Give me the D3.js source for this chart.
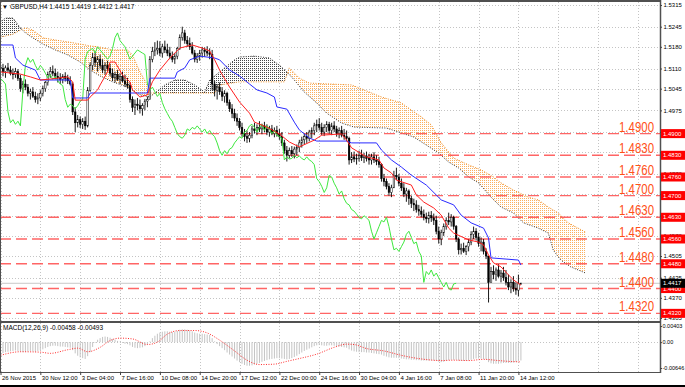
<!DOCTYPE html>
<html lang="en">
<head>
<meta charset="UTF-8">
<title>GBPUSD H4 Ichimoku + MACD</title>
<script src="https://d3js.org/d3.v7.min.js"></script>
<style>
  body { margin: 0; background: #fff; }
  svg { display: block; font-family: "Liberation Sans", Arial, sans-serif; }
  .axis text { font-size: 6px; fill: #000; }
  .axis line { stroke: #444; }
  .axis path { display: none; }
</style>
</head>
<body>
<svg width="685" height="387"></svg>
<script>
// ---- data (H4 bars, index 0 = 26 Nov 2015) ----
const opens = [1.5115,1.5110,1.5100,1.5112,1.5105,1.5095,1.5090,1.5100,1.5078,1.5045,
  1.5060,1.5050,1.5030,1.5035,1.5020,1.5010,1.5015,1.5030,1.5045,1.5065,
  1.5090,1.5100,1.5095,1.5085,1.5080,1.5075,1.5085,1.5078,1.5070,1.5060,
  1.4970,1.4935,1.4945,1.4930,1.4940,1.4925,1.5040,1.5120,1.5145,1.5130,
  1.5140,1.5120,1.5105,1.5120,1.5110,1.5095,1.5080,1.5090,1.5075,1.5085,
  1.5070,1.5060,1.5055,1.5010,1.4985,1.4995,1.4990,1.4980,1.4990,1.5005,
  1.5010,1.5140,1.5165,1.5170,1.5175,1.5160,1.5180,1.5170,1.5160,1.5150,
  1.5140,1.5150,1.5175,1.5210,1.5225,1.5200,1.5190,1.5180,1.5160,1.5140,
  1.5150,1.5160,1.5170,1.5165,1.5160,1.5155,1.5060,1.5040,1.5050,1.5035,
  1.5020,1.5030,1.5000,1.4980,1.4965,1.4950,1.4940,1.4920,1.4900,1.4890,
  1.4885,1.4895,1.4915,1.4910,1.4920,1.4915,1.4925,1.4915,1.4905,1.4915,
  1.4900,1.4910,1.4898,1.4890,1.4870,1.4845,1.4830,1.4845,1.4835,1.4850,
  1.4855,1.4870,1.4880,1.4890,1.4885,1.4905,1.4910,1.4925,1.4930,1.4920,
  1.4905,1.4920,1.4930,1.4910,1.4925,1.4915,1.4900,1.4910,1.4895,1.4890,
  1.4885,1.4815,1.4825,1.4818,1.4820,1.4830,1.4822,1.4828,1.4820,1.4815,
  1.4825,1.4815,1.4810,1.4800,1.4755,1.4745,1.4730,1.4710,1.4725,1.4765,
  1.4760,1.4740,1.4725,1.4705,1.4715,1.4690,1.4675,1.4670,1.4655,1.4650,
  1.4640,1.4630,1.4625,1.4635,1.4628,1.4620,1.4585,1.4560,1.4580,1.4600,
  1.4620,1.4615,1.4630,1.4600,1.4560,1.4525,1.4530,1.4520,1.4535,1.4550,
  1.4575,1.4585,1.4565,1.4545,1.4550,1.4520,1.4505,1.4420,1.4455,1.4445,
  1.4460,1.4440,1.4450,1.4435,1.4420,1.4405,1.4420,1.4400,1.4395,1.4415];
const highs = [1.5130,1.5125,1.5120,1.5128,1.5118,1.5110,1.5112,1.5108,1.5090,1.5070,
  1.5075,1.5060,1.5045,1.5050,1.5035,1.5030,1.5040,1.5055,1.5070,1.5100,
  1.5115,1.5120,1.5110,1.5100,1.5095,1.5092,1.5098,1.5090,1.5085,1.5065,
  1.4985,1.4960,1.4955,1.4950,1.4955,1.5050,1.5130,1.5160,1.5165,1.5150,
  1.5155,1.5140,1.5130,1.5135,1.5125,1.5110,1.5100,1.5105,1.5095,1.5100,
  1.5090,1.5080,1.5065,1.5020,1.5010,1.5015,1.5010,1.4998,1.5012,1.5020,
  1.5150,1.5180,1.5195,1.5200,1.5198,1.5190,1.5200,1.5190,1.5180,1.5165,
  1.5160,1.5180,1.5220,1.5245,1.5235,1.5215,1.5210,1.5195,1.5170,1.5160,
  1.5170,1.5180,1.5178,1.5182,1.5175,1.5170,1.5070,1.5060,1.5065,1.5050,
  1.5040,1.5035,1.5010,1.4995,1.4980,1.4965,1.4950,1.4935,1.4915,1.4910,
  1.4905,1.4925,1.4935,1.4930,1.4940,1.4932,1.4938,1.4930,1.4925,1.4928,
  1.4920,1.4925,1.4915,1.4905,1.4880,1.4860,1.4855,1.4860,1.4858,1.4865,
  1.4880,1.4890,1.4900,1.4905,1.4912,1.4920,1.4935,1.4945,1.4950,1.4935,
  1.4930,1.4940,1.4938,1.4935,1.4940,1.4925,1.4920,1.4925,1.4915,1.4910,
  1.4890,1.4840,1.4842,1.4835,1.4845,1.4848,1.4838,1.4842,1.4835,1.4835,
  1.4840,1.4830,1.4825,1.4805,1.4770,1.4755,1.4740,1.4735,1.4780,1.4790,
  1.4770,1.4755,1.4740,1.4725,1.4720,1.4700,1.4690,1.4685,1.4670,1.4665,
  1.4655,1.4645,1.4648,1.4650,1.4642,1.4635,1.4600,1.4590,1.4610,1.4630,
  1.4645,1.4640,1.4635,1.4605,1.4565,1.4545,1.4548,1.4540,1.4560,1.4585,
  1.4600,1.4595,1.4580,1.4565,1.4560,1.4530,1.4505,1.4470,1.4475,1.4468,
  1.4478,1.4460,1.4470,1.4460,1.4445,1.4430,1.4440,1.4420,1.4445,1.4419];
const lows = [1.5095,1.5085,1.5080,1.5098,1.5088,1.5075,1.5080,1.5070,1.5035,1.5030,
  1.5040,1.5020,1.5010,1.5015,1.5000,1.4995,1.5005,1.5020,1.5035,1.5055,
  1.5080,1.5085,1.5075,1.5065,1.5060,1.5062,1.5068,1.5060,1.5055,1.4960,
  1.4905,1.4920,1.4918,1.4915,1.4912,1.4920,1.5035,1.5105,1.5115,1.5100,
  1.5110,1.5095,1.5090,1.5100,1.5085,1.5070,1.5065,1.5070,1.5060,1.5065,
  1.5050,1.5045,1.5000,1.4970,1.4960,1.4975,1.4965,1.4958,1.4975,1.4985,
  1.5010,1.5130,1.5150,1.5155,1.5150,1.5145,1.5160,1.5150,1.5140,1.5130,
  1.5125,1.5140,1.5170,1.5200,1.5190,1.5180,1.5170,1.5155,1.5130,1.5128,
  1.5135,1.5145,1.5148,1.5150,1.5140,1.5040,1.5020,1.5010,1.5025,1.5005,
  1.5000,1.4990,1.4970,1.4950,1.4940,1.4925,1.4910,1.4890,1.4875,1.4870,
  1.4872,1.4885,1.4900,1.4895,1.4905,1.4898,1.4905,1.4895,1.4890,1.4895,
  1.4888,1.4890,1.4880,1.4860,1.4835,1.4810,1.4820,1.4825,1.4820,1.4830,
  1.4840,1.4855,1.4865,1.4870,1.4875,1.4885,1.4895,1.4905,1.4910,1.4895,
  1.4892,1.4905,1.4900,1.4895,1.4905,1.4890,1.4885,1.4888,1.4880,1.4875,
  1.4800,1.4805,1.4808,1.4800,1.4810,1.4812,1.4805,1.4810,1.4800,1.4800,
  1.4805,1.4798,1.4790,1.4745,1.4730,1.4720,1.4700,1.4695,1.4725,1.4750,
  1.4730,1.4715,1.4695,1.4680,1.4670,1.4660,1.4650,1.4645,1.4635,1.4630,
  1.4620,1.4612,1.4610,1.4615,1.4605,1.4575,1.4545,1.4540,1.4570,1.4590,
  1.4605,1.4600,1.4590,1.4550,1.4510,1.4510,1.4515,1.4508,1.4520,1.4540,
  1.4560,1.4555,1.4535,1.4520,1.4510,1.4495,1.4355,1.4420,1.4430,1.4425,
  1.4435,1.4420,1.4425,1.4410,1.4395,1.4385,1.4390,1.4380,1.4375,1.4412];
const closes = [1.5110,1.5100,1.5112,1.5105,1.5095,1.5090,1.5100,1.5078,1.5045,1.5060,
  1.5050,1.5030,1.5035,1.5020,1.5010,1.5015,1.5030,1.5045,1.5065,1.5090,
  1.5100,1.5095,1.5085,1.5080,1.5075,1.5085,1.5078,1.5070,1.5060,1.4970,
  1.4935,1.4945,1.4930,1.4940,1.4925,1.5040,1.5120,1.5145,1.5130,1.5140,
  1.5120,1.5105,1.5120,1.5110,1.5095,1.5080,1.5090,1.5075,1.5085,1.5070,
  1.5060,1.5055,1.5010,1.4985,1.4995,1.4990,1.4980,1.4990,1.5005,1.5010,
  1.5140,1.5165,1.5170,1.5175,1.5160,1.5180,1.5170,1.5160,1.5150,1.5140,
  1.5150,1.5175,1.5210,1.5225,1.5200,1.5190,1.5180,1.5160,1.5140,1.5150,
  1.5160,1.5170,1.5165,1.5160,1.5155,1.5060,1.5040,1.5050,1.5035,1.5020,
  1.5030,1.5000,1.4980,1.4965,1.4950,1.4940,1.4920,1.4900,1.4890,1.4885,
  1.4895,1.4915,1.4910,1.4920,1.4915,1.4925,1.4915,1.4905,1.4915,1.4900,
  1.4910,1.4898,1.4890,1.4870,1.4845,1.4830,1.4845,1.4835,1.4850,1.4855,
  1.4870,1.4880,1.4890,1.4885,1.4905,1.4910,1.4925,1.4930,1.4920,1.4905,
  1.4920,1.4930,1.4910,1.4925,1.4915,1.4900,1.4910,1.4895,1.4890,1.4885,
  1.4815,1.4825,1.4818,1.4820,1.4830,1.4822,1.4828,1.4820,1.4815,1.4825,
  1.4815,1.4810,1.4800,1.4755,1.4745,1.4730,1.4710,1.4725,1.4765,1.4760,
  1.4740,1.4725,1.4705,1.4715,1.4690,1.4675,1.4670,1.4655,1.4650,1.4640,
  1.4630,1.4625,1.4635,1.4628,1.4620,1.4585,1.4560,1.4580,1.4600,1.4620,
  1.4615,1.4630,1.4600,1.4560,1.4525,1.4530,1.4520,1.4535,1.4550,1.4575,
  1.4585,1.4565,1.4545,1.4550,1.4520,1.4505,1.4420,1.4455,1.4445,1.4460,
  1.4440,1.4450,1.4435,1.4420,1.4405,1.4420,1.4400,1.4395,1.4415,1.4417];

// Ichimoku lines: [bar index, price]
const tenkan = [[0,1.5099],[8,1.5092],[12,1.5083],[16,1.5073],[20,1.5076],[27,1.5083],[29,1.5067],[30,1.5008],
  [35,1.5008],[36,1.5018],[39,1.5041],[40,1.5057],[43,1.5099],[44,1.5131],[46,1.5131],[49,1.5089],[52,1.5067],
  [53,1.5041],[56,1.5018],[59,1.5025],[61,1.5067],[64,1.5105],[68,1.5144],[72,1.5176],[77,1.5186],[81,1.5176],
  [84,1.5167],[86,1.5138],[88,1.5105],[92,1.5050],[96,1.5002],[100,1.4966],[102,1.4937],[107,1.4921],[112,1.4899],
  [116,1.4873],[120,1.4857],[126,1.4879],[129,1.4895],[137,1.4899],[139,1.4879],[141,1.4854],[147,1.4825],
  [152,1.4815],[154,1.4789],[157,1.4773],[159,1.4750],[165,1.4734],[167,1.4702],[170,1.4679],[174,1.4660],
  [177,1.4637],[180,1.4595],[182,1.4579],[188,1.4557],[192,1.4550],[194,1.4541],[196,1.4508],[198,1.4483],
  [201,1.4470],[204,1.4444],[206,1.4428],[209,1.4411]];
const kijun = [[0,1.5186],[5,1.5186],[6,1.5144],[9,1.5121],[14,1.5105],[16,1.5073],[28,1.5073],[29,1.5015],
  [35,1.5015],[36,1.5031],[59,1.5031],[60,1.5079],[70,1.5079],[71,1.5099],[74,1.5112],[76,1.5138],[80,1.5150],
  [86,1.5144],[88,1.5138],[92,1.5105],[96,1.5086],[100,1.5060],[103,1.5041],[107,1.5031],[110,1.5018],
  [111,1.4986],[115,1.4979],[118,1.4937],[120,1.4912],[124,1.4886],[127,1.4876],[139,1.4876],[141,1.4870],
  [151,1.4870],[153,1.4847],[157,1.4815],[161,1.4792],[165,1.4766],[171,1.4734],[177,1.4686],[182,1.4670],
  [185,1.4637],[189,1.4612],[194,1.4595],[196,1.4563],[197,1.4499],[208,1.4492],[209,1.4476]];
const spanA = [[0,1.5212],[2,1.5215],[5,1.5221],[8,1.5234],[10,1.5241],[13,1.5234],[17,1.5209],[22,1.5202],
  [27,1.5196],[32,1.5189],[36,1.5183],[40,1.5179],[45,1.5170],[51,1.5170],[53,1.5154],[56,1.5099],[59,1.5057],
  [60,1.5031],[86,1.5031],[88,1.5057],[96,1.5067],[114,1.5067],[116,1.5112],[120,1.5079],[124,1.5063],
  [141,1.5057],[146,1.5041],[153,1.5018],[161,1.4999],[165,1.4976],[169,1.4954],[173,1.4928],[177,1.4870],
  [182,1.4821],[188,1.4799],[193,1.4783],[198,1.4760],[201,1.4741],[206,1.4718],[212,1.4695],[216,1.4686],
  [220,1.4663],[224,1.4644],[228,1.4612],[235,1.4582]];
const spanB = [[0,1.5260],[2,1.5273],[5,1.5273],[8,1.5241],[10,1.5225],[13,1.5209],[17,1.5189],[22,1.5170],
  [27,1.5154],[32,1.5131],[36,1.5105],[40,1.5086],[45,1.5067],[51,1.5050],[56,1.5025],[60,1.5018],[66,1.5057],
  [70,1.5073],[74,1.5073],[78,1.5057],[82,1.5034],[84,1.5073],[88,1.5099],[94,1.5138],[96,1.5147],[102,1.5150],
  [108,1.5144],[112,1.5121],[115,1.5099],[118,1.5073],[122,1.5034],[127,1.4999],[131,1.4966],[137,1.4934],
  [142,1.4921],[155,1.4918],[161,1.4902],[166,1.4889],[171,1.4863],[176,1.4837],[180,1.4808],[184,1.4789],
  [188,1.4760],[192,1.4741],[197,1.4695],[201,1.4663],[206,1.4644],[210,1.4612],[216,1.4595],[220,1.4579],
  [222,1.4524],[225,1.4492],[229,1.4470],[235,1.4450]];

// MACD(12,26,9) main (histogram) per bar and signal line [bar index, value]
const macdMain = [-0.0026,-0.0027,-0.0025,-0.0024,-0.0023,-0.0022,-0.0021,-0.0022,-0.0024,
  -0.0025,-0.0024,-0.0023,-0.0022,-0.0023,-0.0024,-0.0022,-0.0020,
  -0.0018,-0.0015,-0.0012,-0.0010,-0.0009,-0.0009,
  -0.0010,-0.0011,-0.0011,-0.0012,-0.0013,-0.0014,
  -0.0020,-0.0028,-0.0034,-0.0038,-0.0040,-0.0042,-0.0035,-0.0025,
  -0.0012,-0.0002,0.0006,0.0010,0.0013,
  0.0014,0.0013,0.0011,0.0008,0.0006,
  0.0003,0.0001,-0.0002,-0.0004,-0.0005,-0.0008,
  -0.0012,-0.0014,-0.0015,-0.0014,-0.0013,-0.0010,-0.0006,
  0.0002,0.0010,0.0016,0.0021,0.0024,0.0026,0.0027,
  0.0027,0.0026,0.0025,0.0026,0.0028,0.0031,0.0032,
  0.0032,0.0031,0.0029,0.0027,0.0024,0.0022,0.0021,
  0.0021,0.0020,0.0019,0.0018,0.0010,
  0.0002,-0.0005,-0.0010,-0.0015,-0.0020,-0.0026,-0.0031,
  -0.0036,-0.0041,-0.0046,-0.0050,-0.0054,-0.0057,-0.0059,-0.0059,
  -0.0058,-0.0056,-0.0054,-0.0052,-0.0049,-0.0047,-0.0045,
  -0.0043,-0.0042,-0.0041,-0.0040,-0.0040,-0.0041,-0.0042,-0.0043,
  -0.0042,-0.0040,-0.0037,-0.0034,-0.0030,-0.0026,-0.0022,
  -0.0019,-0.0016,-0.0013,-0.0010,-0.0008,-0.0007,-0.0008,-0.0009,
  -0.0009,-0.0008,-0.0008,-0.0009,-0.0010,-0.0011,-0.0012,-0.0013,-0.0014,
  -0.0018,-0.0021,-0.0023,-0.0024,-0.0025,-0.0025,-0.0025,-0.0026,-0.0026,
  -0.0027,-0.0028,-0.0029,-0.0030,-0.0031,-0.0034,-0.0036,-0.0038,-0.0039,
  -0.0039,-0.0039,-0.0040,-0.0041,-0.0042,-0.0043,-0.0043,-0.0044,-0.0044,
  -0.0045,-0.0045,-0.0046,-0.0046,-0.0046,-0.0046,-0.0046,-0.0046,-0.0047,
  -0.0049,-0.0050,-0.0049,-0.0047,-0.0045,-0.0044,-0.0044,-0.0044,-0.0046,
  -0.0047,-0.0047,-0.0047,-0.0046,-0.0044,-0.0042,-0.0041,-0.0041,-0.0041,
  -0.0042,-0.0043,-0.0050,-0.0053,-0.0054,-0.0054,-0.0054,-0.0053,-0.0052,
  -0.0052,-0.0052,-0.0052,-0.0051,-0.0050,-0.0047,-0.00458];
const macdSignal = [[0,-0.0033],[8,-0.0024],[16,-0.0025],[20,-0.0028],[27,-0.0019],[31,-0.0015],[35,-0.0024],
  [40,-0.0013],[44,0.0004],[48,0.0010],[53,0.0008],[59,-0.0006],[63,0.0000],[67,0.0020],[72,0.0029],[78,0.0029],
  [83,0.0023],[88,0.0005],[94,-0.0022],[99,-0.0045],[104,-0.0056],[110,-0.0055],[115,-0.0048],[120,-0.0041],
  [127,-0.0030],[134,-0.0013],[139,-0.0005],[142,-0.0006],[147,-0.0016],[154,-0.0022],[161,-0.0033],
  [169,-0.0042],[177,-0.0046],[182,-0.0045],[188,-0.0046],[194,-0.0043],[200,-0.0046],[204,-0.0048],[209,-0.00493]];

const levels = [1.4900, 1.4830, 1.4760, 1.4700, 1.4630, 1.4560, 1.4480, 1.4400, 1.4320];
const priceTicks = [1.5315,1.5245,1.5180,1.5110,1.5045,1.4975,1.4905,1.4840,1.4770,1.4705,1.4635,1.4570,1.4505,1.4435,1.4370,1.4305];
const macdTicks = [0.00403, 0, -0.00646];
const macdTickLabels = ["0.00403", "0.00", "-0.00646"];
const dateIdx = [0,16,32,48,64,80,96,112,128,144,160,176,192,208];
const dateLabels = ["26 Nov 2015","30 Nov 12:00","3 Dec 04:00","7 Dec 16:00","10 Dec 08:00","14 Dec 20:00",
  "17 Dec 12:00","22 Dec 00:00","24 Dec 16:00","30 Dec 04:00","4 Jan 16:00","7 Jan 08:00","11 Jan 20:00","14 Jan 12:00"];
const gridIdx = [0,16,32,48,64,80,96,112,128,144,160,176,192,208,224,240,256];
const lastBid = 1.4417;

// ---- layout ----
const svg = d3.select("svg");
const right = 660;
const priceTop = 2, priceBottom = 321, macdTop = 323, macdBottom = 372;

const x = d3.scaleLinear().domain([0, 264]).range([0.5, 0.5 + 264 * 2.49]);
const y = d3.scaleLinear().domain([1.4305, 1.5315]).range([318, 5]);
const ym = d3.scaleLinear().domain([-0.00646, 0.00403]).range([368, 326]);

const defs = svg.append("defs");
defs.append("clipPath").attr("id", "clipPrice").append("rect")
  .attr("x", 0).attr("y", priceTop).attr("width", right).attr("height", priceBottom - priceTop);
defs.append("clipPath").attr("id", "clipMacd").append("rect")
  .attr("x", 0).attr("y", macdTop).attr("width", right).attr("height", macdBottom - macdTop);

function dotPattern(id, color) {
  const p = defs.append("pattern").attr("id", id)
    .attr("patternUnits", "userSpaceOnUse").attr("width", 2).attr("height", 2);
  p.append("rect").attr("width", 1).attr("height", 1).attr("fill", color);
}
dotPattern("dotsOrange", "#fbb060");
dotPattern("dotsBlack", "#444");

const areaDown = d3.area().x(d => x(d[0])).y0(priceBottom).y1(d => y(d[1]));
const areaUp = d3.area().x(d => x(d[0])).y0(0).y1(d => y(d[1]));
defs.append("clipPath").attr("id", "aboveB").append("path").attr("d", areaUp(spanB));
defs.append("clipPath").attr("id", "aboveA").append("path").attr("d", areaUp(spanA));

// grid
const grid = svg.append("g").attr("stroke", "#c4c4c4").attr("stroke-dasharray", "1,2");
grid.selectAll(".vg").data(gridIdx).join("line")
  .attr("x1", d => Math.round(x(d)) + 0.5).attr("x2", d => Math.round(x(d)) + 0.5)
  .attr("y1", priceTop).attr("y2", macdBottom);
grid.selectAll(".hg").data(priceTicks).join("line")
  .attr("x1", 0).attr("x2", right)
  .attr("y1", d => Math.round(y(d)) + 0.5).attr("y2", d => Math.round(y(d)) + 0.5);
grid.append("line").attr("x1", 0).attr("x2", right)
  .attr("y1", Math.round(ym(0)) + 0.5).attr("y2", Math.round(ym(0)) + 0.5);

// ---- price panel ----
const price = svg.append("g").attr("clip-path", "url(#clipPrice)");

// cloud
price.append("path").attr("d", areaDown(spanA)).attr("fill", "url(#dotsOrange)").attr("clip-path", "url(#aboveB)");
price.append("path").attr("d", areaDown(spanB)).attr("fill", "url(#dotsBlack)").attr("clip-path", "url(#aboveA)");
const line = d3.line().x(d => x(d[0])).y(d => y(d[1]));
price.append("path").attr("d", line(spanA)).attr("fill", "none")
  .attr("stroke", "#f08a1c").attr("stroke-width", 1).attr("stroke-dasharray", "1,1.5");
price.append("path").attr("d", line(spanB)).attr("fill", "none")
  .attr("stroke", "#333").attr("stroke-width", 1).attr("stroke-dasharray", "1,1.5");

// bid line
price.append("line").attr("x1", 0).attr("x2", right)
  .attr("y1", y(lastBid)).attr("y2", y(lastBid)).attr("stroke", "#c8c8c8");

// level lines
price.selectAll(".lvl").data(levels).join("line")
  .attr("x1", 0).attr("x2", right)
  .attr("y1", d => y(d)).attr("y2", d => y(d))
  .attr("stroke", "#ff4a4a").attr("stroke-opacity", 0.85).attr("stroke-width", 1.4)
  .attr("stroke-dasharray", "11,5");

// candles
const bars = d3.range(closes.length);
price.append("g").selectAll("line").data(bars).join("line")
  .attr("x1", i => x(i)).attr("x2", i => x(i))
  .attr("y1", i => y(highs[i])).attr("y2", i => y(lows[i]))
  .attr("stroke", "#000").attr("stroke-width", 0.9);
price.append("g").selectAll("rect").data(bars).join("rect")
  .attr("x", i => x(i) - 0.8).attr("width", 1.6)
  .attr("y", i => y(Math.max(opens[i], closes[i])))
  .attr("height", i => Math.max(0.6, Math.abs(y(opens[i]) - y(closes[i]))))
  .attr("fill", i => closes[i] < opens[i] ? "#000" : "#fff")
  .attr("stroke", "#000").attr("stroke-width", 0.5);

// chikou (close shifted back 26 bars), kijun, tenkan
const chikou = closes.map((c, i) => [i - 26, c]).filter(d => d[0] >= 0);
price.append("path").attr("d", line(chikou)).attr("fill", "none").attr("stroke", "#3ee83e").attr("stroke-width", 1);
price.append("path").attr("d", line(kijun)).attr("fill", "none").attr("stroke", "#2a2aff").attr("stroke-width", 1);
price.append("path").attr("d", line(tenkan)).attr("fill", "none").attr("stroke", "#ff2020").attr("stroke-width", 1);

// level captions
svg.append("g").selectAll("text").data(levels).join("text")
  .attr("x", 654).attr("y", d => y(d) - 2)
  .attr("text-anchor", "end")
  .attr("font-size", 14).attr("fill", "#ff5019")
  .attr("textLength", 35).attr("lengthAdjust", "spacingAndGlyphs")
  .text(d => d.toFixed(4));

// ---- MACD panel ----
const macd = svg.append("g").attr("clip-path", "url(#clipMacd)");
macd.append("g").selectAll("line").data(macdMain).join("line")
  .attr("x1", (d, i) => x(i)).attr("x2", (d, i) => x(i))
  .attr("y1", ym(0)).attr("y2", d => ym(d))
  .attr("stroke", "#c4c4c4").attr("stroke-width", 1);
macd.append("path")
  .attr("d", d3.line().x(d => x(d[0])).y(d => ym(d[1])).curve(d3.curveMonotoneX)(macdSignal))
  .attr("fill", "none").attr("stroke", "#ff2a2a").attr("stroke-width", 1).attr("stroke-dasharray", "1,1.5");

// ---- frames ----
const frame = svg.append("g").attr("stroke", "#505050");
frame.append("line").attr("x1", 0).attr("x2", right).attr("y1", 1).attr("y2", 1).attr("stroke-width", 2);
frame.append("line").attr("x1", 0.5).attr("x2", 0.5).attr("y1", 0).attr("y2", macdBottom);
frame.append("line").attr("x1", right + 0.5).attr("x2", right + 0.5).attr("y1", 0).attr("y2", macdBottom + 1).attr("stroke-width", 1.5);
frame.append("line").attr("x1", 0).attr("x2", right).attr("y1", 322).attr("y2", 322).attr("stroke-width", 2);
frame.append("line").attr("x1", 0).attr("x2", right).attr("y1", macdBottom + 0.5).attr("y2", macdBottom + 0.5);
svg.append("line").attr("x1", 0).attr("x2", 685).attr("y1", 386).attr("y2", 386).attr("stroke", "#000").attr("stroke-width", 2);

// ---- axes ----
svg.append("g").attr("class", "axis").attr("transform", `translate(${right},0)`)
  .call(d3.axisRight(y).tickValues(priceTicks).tickFormat(d3.format(".4f")).tickSize(2).tickPadding(1.5));
svg.append("g").attr("class", "axis").attr("transform", `translate(${right},0)`)
  .call(d3.axisRight(ym).tickValues(macdTicks).tickFormat((d, i) => macdTickLabels[i]).tickSize(2).tickPadding(0.5))
  .selectAll("text").style("font-size", "5.5px");
const xa = svg.append("g").attr("class", "axis").attr("transform", `translate(0,${macdBottom})`)
  .call(d3.axisBottom(x).tickValues(dateIdx).tickFormat((d, i) => dateLabels[i]).tickSize(3).tickPadding(1));
xa.selectAll("text").attr("text-anchor", "start").attr("x", 1);

// axis price boxes
const boxes = svg.append("g");
const lv = boxes.selectAll("g").data(levels).join("g").attr("transform", d => `translate(${right + 1},${y(d)})`);
lv.append("rect").attr("x", 0).attr("y", -4.5).attr("width", 24).attr("height", 9).attr("fill", "#ff0000");
lv.append("text").attr("x", 2).attr("dy", "0.35em").attr("font-size", 6).attr("fill", "#fff").text(d => d.toFixed(4));
const bid = boxes.append("g").attr("transform", `translate(${right + 1},${y(lastBid)})`);
bid.append("rect").attr("y", -4.5).attr("width", 24).attr("height", 9).attr("fill", "#000");
bid.append("text").attr("x", 2).attr("dy", "0.35em").attr("font-size", 6).attr("fill", "#fff").text(lastBid.toFixed(4));

// ---- captions ----
svg.append("text").attr("x", 2).attr("y", 9).attr("font-size", 6).text("\u25BC");
svg.append("text").attr("x", 10).attr("y", 9).attr("font-size", 6.5).attr("fill", "#000")
  .text(`GBPUSD,H4  ${opens[209].toFixed(4)} ${highs[209].toFixed(4)} ${lows[209].toFixed(4)} ${closes[209].toFixed(4)}`);
svg.append("text").attr("x", 3).attr("y", 330).attr("font-size", 6.5).attr("fill", "#000")
  .text("MACD(12,26,9) -0.00458 -0.00493");
</script>
</body>
</html>
